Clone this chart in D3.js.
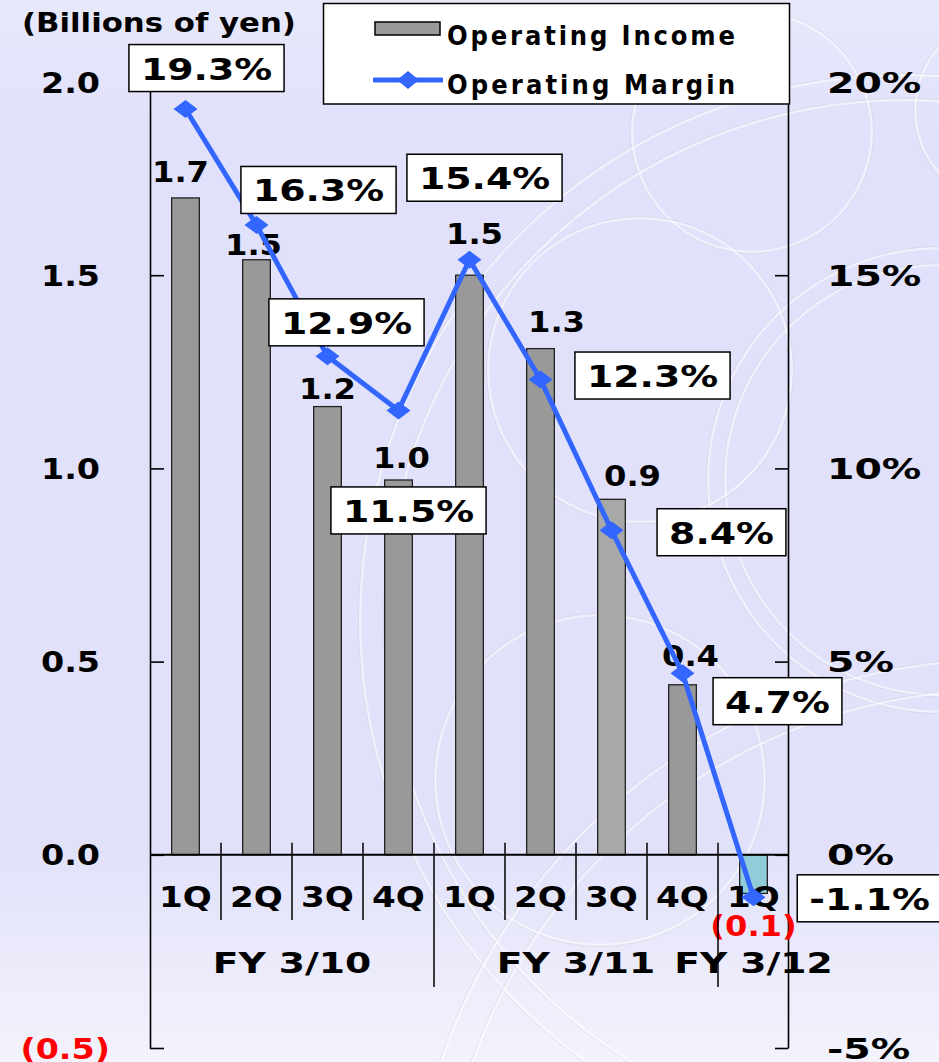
<!DOCTYPE html>
<html>
<head>
<meta charset="utf-8">
<script src="https://cdn.jsdelivr.net/npm/d3@7"></script>
<style>
  html, body { margin: 0; padding: 0; background: #e2e2fa; }
  svg { display: block; }
</style>
</head>
<body>
<svg id="chart" width="939" height="1062"></svg>
<script>
// ---------------- data ----------------
const categories = ["1Q", "2Q", "3Q", "4Q", "1Q", "2Q", "3Q", "4Q", "1Q"];
const fiscalYears = ["FY 3/10", "FY 3/11", "FY 3/12"];
const fiscalYearQuarters = [4, 4, 1];
const operatingIncome = [1.7, 1.54, 1.16, 0.97, 1.5, 1.31, 0.92, 0.44, -0.1];
const operatingMargin = [19.3, 16.3, 12.9, 11.5, 15.4, 12.3, 8.4, 4.7, -1.1];
const leftTicks = [-0.5, 0, 0.5, 1.0, 1.5, 2.0];
const rightTicks = [-5, 0, 5, 10, 15, 20];
const unitLabel = "(Billions of yen)";
const legendLabels = ["Operating Income", "Operating Margin"];

// ---------------- layout / style ----------------
const FONT = "'DejaVu Sans', Verdana, sans-serif";
const barFills = ["#999999", "#999999", "#999999", "#999999", "#999999", "#999999", "#a8a8a8", "#999999", "#92ccd8"];
const valueLabelOffsets = [[-5, -16], [-3, -5], [0, -8], [3, -12], [5, -31], [16, -17], [21, -13], [8, -19], [0, 43]];
const pctLabelOffsets = [[21, -41], [62, -35], [19, -34], [10, 100], [15, -82], [112, -4], [110, 2], [95, 28], [116, 1]];

const svg = d3.select("#chart");

// background
const defs = svg.append("defs");
const grad = defs.append("linearGradient").attr("id", "bg").attr("x1", 0).attr("y1", 0).attr("x2", 0).attr("y2", 1);
grad.append("stop").attr("offset", "0%").attr("stop-color", "#e8e8fb");
grad.append("stop").attr("offset", "12%").attr("stop-color", "#e1e1fb");
grad.append("stop").attr("offset", "80%").attr("stop-color", "#e1e1fa");
grad.append("stop").attr("offset", "100%").attr("stop-color", "#f3f3fc");
svg.append("rect").attr("width", 939).attr("height", 1062).attr("fill", "url(#bg)");

const deco = svg.append("g").attr("fill", "none");
const decoCircles = [
  [752, 132, 120], [1010, 110, 95], [940, 480, 215], [940, 480, 232],
  [640, 370, 152], [905, 620, 520], [905, 620, 545], [600, 780, 165],
  [1000, 1250, 560], [1000, 1250, 590]
];
decoCircles.forEach(([cx, cy, r]) => {
  deco.append("circle").attr("cx", cx).attr("cy", cy).attr("r", r)
    .attr("stroke", "#ffffff").attr("stroke-width", 2.5).attr("stroke-opacity", 0.55);
  deco.append("circle").attr("cx", cx).attr("cy", cy).attr("r", r + 1.5)
    .attr("stroke", "#c4c4d6").attr("stroke-width", 0.8).attr("stroke-opacity", 0.45);
});

// scales
const x = d3.scaleBand().domain(d3.range(categories.length)).range([150, 789]).padding(0);
const yL = d3.scaleLinear().domain([-0.5, 2.0]).range([1048, 82]);
const yR = d3.scaleLinear().domain([-5, 20]).range([1048, 82]);
const barW = x.bandwidth() * 0.39;

function txt(g, px, py, str, o) {
  return g.append("text")
    .attr("transform", `translate(${px},${py}) scale(${o.sx || 1},1)`)
    .attr("text-anchor", o.anchor || "middle")
    .attr("font-family", o.family || FONT)
    .attr("font-weight", o.weight || "bold")
    .attr("font-size", o.size)
    .attr("fill", o.fill || "#000")
    .text(str);
}

// axes (lines & ticks via d3 axes)
const axL = svg.append("g").attr("transform", "translate(150,0)")
  .call(d3.axisLeft(yL).tickValues(leftTicks).tickSizeInner(-14).tickSizeOuter(0).tickFormat(""));
const axR = svg.append("g").attr("transform", "translate(788,0)")
  .call(d3.axisRight(yR).tickValues(rightTicks).tickSizeInner(-13).tickSizeOuter(0).tickFormat(""));
[axL, axR].forEach(a => {
  a.selectAll("path, line").attr("stroke", "#000").attr("stroke-width", 1.6);
});

// tick labels
const fmtL = v => v < 0 ? `(${Math.abs(v).toFixed(1)})` : v.toFixed(1);
leftTicks.forEach(v => {
  txt(svg, v < 0 ? 110 : 100, yL(v) + 10.5, fmtL(v), { size: 29, sx: 1.15, anchor: "end", fill: v < 0 ? "#ff0000" : "#000" });
});
rightTicks.forEach(v => {
  txt(svg, 827, yR(v) + 10.5, `${v}%`, { size: 29, sx: 1.36, anchor: "start" });
});
txt(svg, 22, 32, unitLabel, { size: 27, sx: 1.14, anchor: "start" });

// bars
svg.append("g").selectAll("rect").data(operatingIncome).join("rect")
  .attr("x", (d, i) => x(i) + (x.bandwidth() - barW) / 2)
  .attr("y", d => yL(Math.max(0, d)))
  .attr("width", barW)
  .attr("height", d => Math.abs(yL(d) - yL(0)))
  .attr("fill", (d, i) => barFills[i])
  .attr("stroke", "#222").attr("stroke-width", 1.3);

// value labels
const fmtV = v => v < 0 ? `(${Math.abs(v).toFixed(1)})` : v.toFixed(1);
operatingIncome.forEach((v, i) => {
  const cx = x(i) + x.bandwidth() / 2 + valueLabelOffsets[i][0];
  const base = v < 0 ? yL(v) : yL(v);
  txt(svg, cx, base + valueLabelOffsets[i][1], fmtV(v), { size: 28, sx: 1.15, fill: v < 0 ? "#ff0000" : "#000" });
});

// category axis line and separators
const catG = svg.append("g").attr("stroke", "#000");
catG.append("line").attr("x1", 150).attr("x2", 788).attr("y1", yL(0)).attr("y2", yL(0)).attr("stroke-width", 2);
const fyBounds = d3.cumsum(fiscalYearQuarters);
for (let i = 1; i < categories.length; i++) {
  const isFY = fyBounds.includes(i);
  catG.append("line").attr("x1", x(i)).attr("x2", x(i))
    .attr("y1", yL(0) - 12).attr("y2", isFY ? 987 : 920).attr("stroke-width", 1.5);
}
categories.forEach((c, i) => {
  txt(svg, x(i) + x.bandwidth() / 2, 907, c, { size: 28, sx: 1.22 });
});
let startIdx = 0;
fiscalYears.forEach((fy, k) => {
  const endIdx = startIdx + fiscalYearQuarters[k];
  const cx = (x(startIdx) + x(endIdx - 1) + x.bandwidth()) / 2;
  txt(svg, cx, 973, fy, { size: 29, sx: 1.3 });
  startIdx = endIdx;
});

// margin line
const pts = operatingMargin.map((v, i) => [x(i) + x.bandwidth() / 2, yR(v)]);
svg.append("path").attr("d", d3.line()(pts))
  .attr("fill", "none").attr("stroke", "#3366ff").attr("stroke-width", 5).attr("stroke-linejoin", "round");
const diamond = (cx, cy, hw, hh) => `M${cx - hw},${cy}L${cx},${cy - hh}L${cx + hw},${cy}L${cx},${cy + hh}Z`;
svg.append("g").selectAll("path").data(pts).join("path")
  .attr("d", p => diamond(p[0], p[1], 12, 9)).attr("fill", "#3366ff");

// percentage labels in boxes
operatingMargin.forEach((v, i) => {
  const [px, py] = pts[i];
  const cx = px + pctLabelOffsets[i][0];
  const cy = py + pctLabelOffsets[i][1];
  const g = svg.append("g");
  const rect = g.append("rect");
  const t = txt(g, cx, cy + 11.5, `${v.toFixed(1)}%`, { size: 31, sx: 1.22 });
  const w = t.node().getComputedTextLength() * 1.22 + 24;
  rect.attr("x", cx - w / 2).attr("y", cy - 23.5).attr("width", w).attr("height", 47)
    .attr("fill", "#fff").attr("stroke", "#000").attr("stroke-width", 1.5);
});

// legend
const lg = svg.append("g");
lg.append("rect").attr("x", 323.5).attr("y", 3.5).attr("width", 466).attr("height", 100.5)
  .attr("fill", "#fff").attr("stroke", "#000").attr("stroke-width", 1.5);
lg.append("rect").attr("x", 375).attr("y", 22).attr("width", 65).attr("height", 13)
  .attr("fill", "#999999").attr("stroke", "#000").attr("stroke-width", 1.5);
lg.append("line").attr("x1", 373).attr("x2", 443).attr("y1", 80).attr("y2", 80)
  .attr("stroke", "#3366ff").attr("stroke-width", 5);
lg.append("path").attr("d", diamond(408, 80, 11, 9)).attr("fill", "#3366ff");
legendLabels.forEach((l, i) => {
  lg.append("text").attr("x", 447).attr("y", i === 0 ? 45 : 94)
    .attr("font-family", "'Liberation Sans Narrow', 'DejaVu Sans Condensed', sans-serif")
    .attr("font-weight", "bold").attr("font-size", 27)
    .attr("textLength", 288).attr("lengthAdjust", "spacing")
    .text(l);
});
</script>
</body>
</html>
